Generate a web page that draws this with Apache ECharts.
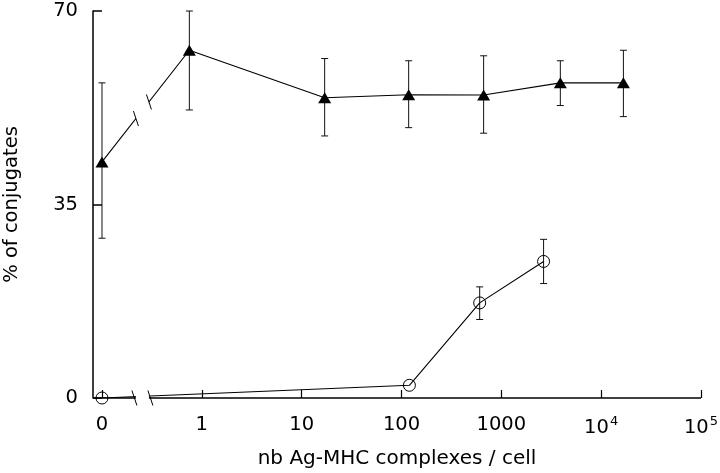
<!DOCTYPE html>
<html>
<head>
<meta charset="utf-8">
<script src="https://cdn.jsdelivr.net/npm/echarts@6/dist/echarts.min.js"></script>
<style>
html,body{margin:0;padding:0;background:#fff;}
#chart{width:720px;height:473px;}
</style>
</head>
<body>
<div id="chart"></div>
<script>
// ---- data ----
var tickValues = [-1, 0, 1, 2, 3, 4, 5];
var tickLabels = ['0', '1', '10', '100', '1000', '10{sup|4}', '10{sup|5}'];
var yTicks = [0, 35, 70];

var triX    = [0, 0.75, 17, 118, 665, 3900, 16700];
var triY    = [42.7, 62.9, 54.3, 54.85, 54.8, 57.0, 57.0];
var triLow  = [28.9, 52.1, 47.4, 48.9, 47.9, 52.9, 50.9];
var triHigh = [57.0, 70.0, 61.4, 61.0, 61.9, 61.0, 62.9];

var circX    = [0, 120, 607, 2650];
var circY    = [0, 2.3, 17.2, 24.7];
var circLow  = [null, null, 14.2, 20.7];
var circHigh = [null, null, 20.1, 28.7];

// ---- helpers ----
var X_MIN = -1.09, X_MAX = 5;
var BREAK_START = -0.66, BREAK_END = -0.53;
function pos(x) { return x === 0 ? -1 : Math.log10(x); }

var triData = triX.map(function (x, i) { return [pos(x), triY[i]]; });
var circData = circX.map(function (x, i) { return [pos(x), circY[i]]; });
var errData = [];
triX.forEach(function (x, i) { if (triLow[i] != null) errData.push([pos(x), triLow[i], triHigh[i]]); });
circX.forEach(function (x, i) { if (circLow[i] != null) errData.push([pos(x), circLow[i], circHigh[i]]); });

var chart = echarts.init(document.getElementById('chart'), null, { renderer: 'canvas' });
var FONT = 'DejaVu Sans, Verdana, sans-serif';
var FS = 19.5;

function slash(cx, cy) {
  return { type: 'line', shape: { x1: cx - 2.5, y1: cy - 7.5, x2: cx + 2.5, y2: cy + 7.5 },
           style: { stroke: '#000', lineWidth: 1 } };
}

var option = {
  animation: false,
  backgroundColor: '#fff',
  grid: { left: 93, right: 19, top: 11, bottom: 75, containLabel: false, outerBoundsMode: 'none' },
  xAxis: {
    type: 'value', min: X_MIN, max: X_MAX,
    axisLine: { show: false, onZero: false },
    splitLine: { show: false },
    axisTick: { show: true, inside: true, length: 8, customValues: tickValues,
                lineStyle: { color: '#000', width: 1.2 } },
    axisLabel: {
      customValues: tickValues, margin: 17, color: '#000', fontFamily: FONT, fontSize: FS,
      formatter: function (v) { var i = tickValues.indexOf(Math.round(v)); return i >= 0 ? tickLabels[i] : ''; },
      rich: { sup: { fontSize: 13, verticalAlign: 'bottom', padding: [0, 0, 12, 1], color: '#000', fontFamily: FONT } }
    },
    name: 'nb Ag-MHC complexes / cell', nameLocation: 'middle', nameGap: 51,
    nameTextStyle: { color: '#000', fontFamily: FONT, fontSize: 20 }
  },
  yAxis: {
    type: 'value', min: 0, max: 70, interval: 35,
    axisLine: { show: true, onZero: false, lineStyle: { color: '#000', width: 1.5 } },
    splitLine: { show: false },
    axisTick: { show: true, inside: true, length: 9, lineStyle: { color: '#000', width: 1.5 } },
    axisLabel: { margin: 15, color: '#000', fontFamily: FONT, fontSize: FS,
      formatter: function (v) { return yTicks.indexOf(v) >= 0 ? String(v) : ''; } },
    name: '% of conjugates', nameLocation: 'middle', nameGap: 71,
    nameTextStyle: { color: '#000', fontFamily: FONT, fontSize: FS }
  },
  series: [
    {
      type: 'line', data: triData, symbol: 'triangle', symbolSize: [13, 11],
      itemStyle: { color: '#000' }, lineStyle: { color: '#000', width: 1.1 }, z: 3
    },
    {
      type: 'line', data: circData, symbol: 'circle', symbolSize: 12,
      itemStyle: { color: 'rgba(0,0,0,0)', borderColor: '#000', borderWidth: 1 },
      lineStyle: { color: '#000', width: 1.1 }, z: 3
    },
    {
      type: 'custom', data: errData, encode: { x: 0, y: [1, 2] }, z: 2, clip: false,
      renderItem: function (params, api) {
        var x = api.value(0);
        var lo = api.coord([x, api.value(1)]);
        var hi = api.coord([x, api.value(2)]);
        var w = 3.5;
        var st = { stroke: '#111', lineWidth: 1 };
        return { type: 'group', children: [
          { type: 'line', shape: { x1: lo[0], y1: lo[1], x2: hi[0], y2: hi[1] }, style: st },
          { type: 'line', shape: { x1: lo[0] - w, y1: lo[1], x2: lo[0] + w, y2: lo[1] }, style: st },
          { type: 'line', shape: { x1: hi[0] - w, y1: hi[1], x2: hi[0] + w, y2: hi[1] }, style: st }
        ] };
      }
    },
    {
      // axis break: white gap band, x axis line with gap, break marks
      type: 'custom', data: [[0, 0]], z: 10, clip: false, silent: true,
      renderItem: function (params, api) {
        var a0 = api.coord([X_MIN, 0]), a1 = api.coord([X_MAX, 0]);
        var b0 = api.coord([BREAK_START, 0]), b1 = api.coord([BREAK_END, 0]);
        var top = api.coord([0, 70])[1];
        var p0 = api.coord(triData[0]), p1 = api.coord(triData[1]);
        function ly(px) { return p0[1] + (px - p0[0]) / (p1[0] - p0[0]) * (p1[1] - p0[1]); }
        var ax = { stroke: '#000', lineWidth: 1.5 };
        return { type: 'group', children: [
          { type: 'rect', shape: { x: b0[0], y: top, width: b1[0] - b0[0], height: a0[1] - top + 3 },
            style: { fill: '#fff' } },
          { type: 'line', shape: { x1: a0[0], y1: a0[1], x2: b0[0], y2: a0[1] }, style: ax },
          { type: 'line', shape: { x1: b1[0], y1: a0[1], x2: a1[0], y2: a0[1] }, style: ax },
          slash(b0[0] - 1.5, a0[1]), slash(b1[0] + 1.5, a0[1]),
          slash(b0[0], ly(b0[0])), slash(b1[0], ly(b1[0]))
        ] };
      }
    }
  ]
};
chart.setOption(option);
</script>
</body>
</html>
